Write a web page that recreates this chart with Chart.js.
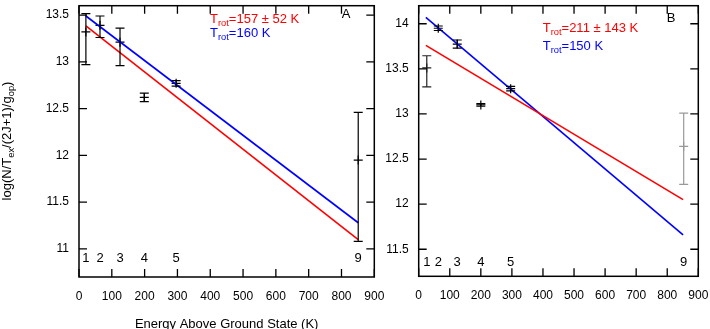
<!DOCTYPE html>
<html>
<head>
<meta charset="utf-8">
<script src="https://cdn.jsdelivr.net/npm/chart.js@4.4.1/dist/chart.umd.min.js"></script>
<style>
  html, body { margin: 0; padding: 0; background: #fff; }
  #wrap { position: relative; width: 710px; height: 329px; overflow: hidden; }
  #wrap canvas { position: absolute; left: 0; top: 0; }
</style>
</head>
<body>
<div id="wrap">
  <canvas id="chartA" width="710" height="329"></canvas>
  <canvas id="chartB" width="710" height="329"></canvas>
</div>
<script>
// shared axis ticks
const xTicks = [0, 100, 200, 300, 400, 500, 600, 700, 800, 900];
const levels = ['1', '2', '3', '4', '5', '9'];

// panel A
const energyA = [21, 64, 125, 199, 296, 851];
const logNA = [13.32, 13.39, 13.21, 12.62, 12.77, 11.95];
const errLoA = [12.97, 13.26, 12.96, 12.575, 12.74, 11.08];
const errHiA = [13.515, 13.49, 13.36, 12.665, 12.80, 12.46];
const fitEnergyA = [21, 851];
const fitRedA = [13.385, 11.10];
const fitBlueA = [13.49, 11.28];
const yTicksA = [11, 11.5, 12, 12.5, 13, 13.5];

// panel B
const energyB = [26, 63, 124, 200, 296, 853];
const logNB = [13.51, 13.95, 13.775, 13.10, 13.28, 12.64];
const errLoB = [13.30, 13.925, 13.73, 13.085, 13.255, 12.22];
const errHiB = [13.645, 13.975, 13.82, 13.115, 13.305, 13.01];
const fitEnergyB = [23, 851];
const fitRedB = [13.76, 12.05];
const fitBlueB = [14.07, 11.66];
const yTicksB = [11.5, 12, 12.5, 13, 13.5, 14];

const FONT = "'Liberation Sans', Arial, Helvetica, sans-serif";
const RED = '#ff0000';
const BLUE = '#0000ff';

// draw text made of [string, isSubscript] pieces
function richText(ctx, parts, x, y, size) {
    parts.forEach(([t, sub]) => {
        ctx.font = (sub ? size * 0.72 : size) + 'px ' + FONT;
        ctx.fillText(t, x, y + (sub ? size * 0.25 : 0));
        x += ctx.measureText(t).width;
    });
}

function makePanel(id, p) {
    const extras = {
        id: 'extras',
        afterDatasetsDraw(chart) {
            const { ctx, chartArea: a, scales: { x, y } } = chart;
            ctx.save();

            // error bars
            p.energy.forEach((e, i) => {
                const px = x.getPixelForValue(e);
                const lo = y.getPixelForValue(p.errLo[i]);
                const hi = y.getPixelForValue(p.errHi[i]);
                ctx.strokeStyle = p.colors[i];
                ctx.lineWidth = 1.2;
                ctx.beginPath();
                ctx.moveTo(px, lo); ctx.lineTo(px, hi);
                ctx.moveTo(px - 4.5, lo); ctx.lineTo(px + 4.5, lo);
                ctx.moveTo(px - 4.5, hi); ctx.lineTo(px + 4.5, hi);
                ctx.stroke();
            });

            // level numbers along the bottom
            ctx.fillStyle = '#000';
            ctx.font = '13px ' + FONT;
            ctx.textAlign = 'center';
            ctx.textBaseline = 'middle';
            p.energy.forEach((e, i) => {
                ctx.fillText(levels[i], x.getPixelForValue(e), y.getPixelForValue(p.labelY));
            });

            // inward ticks on all four sides
            ctx.strokeStyle = '#000';
            ctx.lineWidth = 1.3;
            ctx.beginPath();
            xTicks.forEach(v => {
                const px = x.getPixelForValue(v);
                ctx.moveTo(px, a.bottom); ctx.lineTo(px, a.bottom - 8);
                ctx.moveTo(px, a.top); ctx.lineTo(px, a.top + 8);
            });
            p.yTicks.forEach(v => {
                const py = y.getPixelForValue(v);
                ctx.moveTo(a.left, py); ctx.lineTo(a.left + 8, py);
                ctx.moveTo(a.right, py); ctx.lineTo(a.right - 8, py);
            });
            ctx.stroke();

            // frame
            ctx.lineWidth = 1.5;
            ctx.strokeRect(a.left, a.top, a.right - a.left, a.bottom - a.top);

            // fit temperatures
            ctx.textAlign = 'left';
            ctx.textBaseline = 'alphabetic';
            ctx.fillStyle = RED;
            richText(ctx, [['T', false], ['rot', true], [p.redLabel, false]], p.legendX, p.legendY[0], 13);
            ctx.fillStyle = BLUE;
            richText(ctx, [['T', false], ['rot', true], [p.blueLabel, false]], p.legendX, p.legendY[1], 13);

            // panel letter
            ctx.fillStyle = '#000';
            ctx.textAlign = 'center';
            ctx.textBaseline = 'middle';
            ctx.font = '13px ' + FONT;
            ctx.fillText(p.letter, p.letterPos[0], p.letterPos[1]);

            if (p.titles) {
                ctx.font = '13px ' + FONT;
                ctx.textBaseline = 'alphabetic';
                ctx.fillText('Energy Above Ground State (K)', (a.left + a.right) / 2, 327.5);

                ctx.translate(11, 141);
                ctx.rotate(-Math.PI / 2);
                ctx.textAlign = 'left';
                const parts = [['log(N/T', false], ['ex', true], ['/(2J+1)/g', false], ['op', true], [')', false]];
                let w = 0;
                parts.forEach(([t, sub]) => {
                    ctx.font = (sub ? 13 * 0.72 : 13) + 'px ' + FONT;
                    w += ctx.measureText(t).width;
                });
                richText(ctx, parts, -w / 2, 0, 13);
            }
            ctx.restore();
        }
    };

    const tickFont = { family: FONT, size: 12 };

    return new Chart(document.getElementById(id), {
        type: 'scatter',
        data: {
            datasets: [
                {
                    data: p.fitEnergy.map((e, i) => ({ x: e, y: p.fitRed[i] })),
                    showLine: true,
                    borderColor: RED,
                    borderWidth: 1.6,
                    pointRadius: 0
                },
                {
                    data: p.fitEnergy.map((e, i) => ({ x: e, y: p.fitBlue[i] })),
                    showLine: true,
                    borderColor: BLUE,
                    borderWidth: 1.6,
                    pointRadius: 0
                },
                {
                    data: p.energy.map((e, i) => ({ x: e, y: p.logN[i] })),
                    pointStyle: 'cross',
                    pointRadius: 4.5,
                    borderWidth: 1.2,
                    borderColor: p.colors,
                    backgroundColor: p.colors
                }
            ]
        },
        options: {
            responsive: false,
            animation: false,
            devicePixelRatio: 1,
            layout: { padding: p.padding },
            plugins: { legend: { display: false }, tooltip: { enabled: false } },
            scales: {
                x: {
                    type: 'linear',
                    min: 0,
                    max: 900,
                    afterBuildTicks: s => { s.ticks = xTicks.map(v => ({ value: v })); },
                    afterFit: s => { s.height = p.xHeight; s.paddingLeft = 0; s.paddingRight = 0; },
                    grid: { display: false, drawTicks: false },
                    border: { display: false },
                    ticks: { padding: 12, color: '#000', font: tickFont, maxRotation: 0, autoSkip: false, callback: v => String(v) }
                },
                y: {
                    type: 'linear',
                    min: p.yMin,
                    max: p.yMax,
                    afterBuildTicks: s => { s.ticks = p.yTicks.map(v => ({ value: v })); },
                    afterFit: s => { s.width = 40; s.paddingTop = 0; s.paddingBottom = 0; },
                    grid: { display: false, drawTicks: false },
                    border: { display: false },
                    ticks: { padding: 10, color: '#000', font: tickFont, autoSkip: false, callback: v => String(v) }
                }
            }
        },
        plugins: [extras]
    });
}

makePanel('chartA', {
    energy: energyA, logN: logNA, errLo: errLoA, errHi: errHiA,
    fitEnergy: fitEnergyA, fitRed: fitRedA, fitBlue: fitBlueA,
    yTicks: yTicksA, yMin: 10.7, yMax: 13.6,
    colors: ['#000', '#000', '#000', '#000', '#000', '#000'],
    labelY: 10.9,
    redLabel: '=157 \u00b1 52 K', blueLabel: '=160 K',
    legendX: 210, legendY: [22.5, 36.5],
    letter: 'A', letterPos: [346, 14.5],
    padding: { left: 39, right: 335.7, top: 0.5, bottom: 0 },
    xHeight: 52,
    titles: true
});

makePanel('chartB', {
    energy: energyB, logN: logNB, errLo: errLoB, errHi: errHiB,
    fitEnergy: fitEnergyB, fitRed: fitRedB, fitBlue: fitBlueB,
    yTicks: yTicksB, yMin: 11.2, yMax: 14.2,
    colors: ['#222', '#000', '#000', '#000', '#000', '#999'],
    labelY: 11.35,
    redLabel: '=211 \u00b1 143 K', blueLabel: '=150 K',
    legendX: 542.7, legendY: [31.5, 49.5],
    letter: 'B', letterPos: [671, 18.5],
    padding: { left: 378.7, right: 11.7, top: 0.5, bottom: 0 },
    xHeight: 52.7,
    titles: false
});
</script>
</body>
</html>
